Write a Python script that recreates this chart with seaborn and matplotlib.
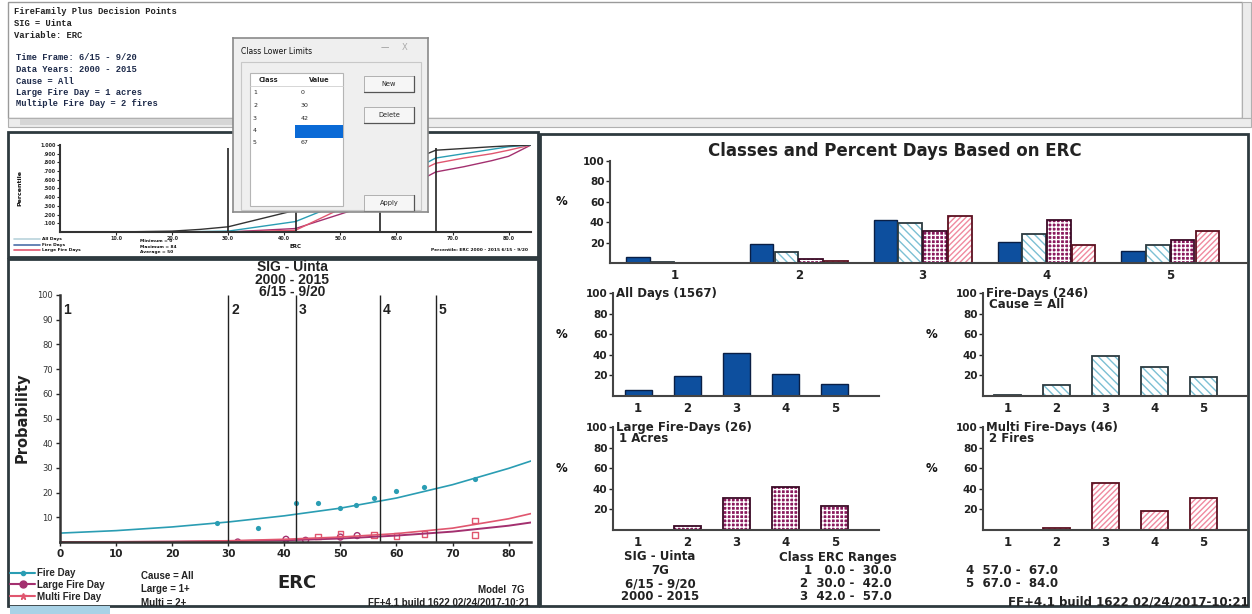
import numpy as np
import pandas as pd
import matplotlib
matplotlib.use("Agg")
import matplotlib.pyplot as plt
from matplotlib.patches import Rectangle
from matplotlib.lines import Line2D
import seaborn as sns

W, H = 1252, 614

# ---- data ----
classes = ["1", "2", "3", "4", "5"]
class_limits = [0, 30, 42, 57, 67]
class_upper = [30, 42, 57, 67, 84]

all_days_pct = [6, 19, 42, 21, 12]
fire_days_pct = [1, 11, 39, 28, 18]
large_days_pct = [0, 4, 31, 42, 23]
multi_days_pct = [0, 2, 46, 18, 31]
series_names = ["All Days", "Fire Days", "Large Fire Days", "Multi Fire Days"]

# probability chart: observed points (ERC, %)
fire_pt_erc = [28, 35.4, 42, 46, 50, 52.8, 56, 60, 65, 74]
fire_pt_prob = [7.6, 5.8, 15.9, 15.6, 13.6, 14.8, 17.7, 20.8, 22.4, 25.6]
large_pt_erc = [31.7, 40.3, 43.8, 50, 53]
large_pt_prob = [0, 1.1, 0.7, 2.0, 2.6]
multi_pt_erc = [46, 50, 56, 60, 65, 74, 74]
multi_pt_prob = [2.3, 3.5, 2.8, 2.4, 3.2, 2.8, 8.7]

# fitted curves
curve_erc = [0, 10, 20, 30, 40, 50, 60, 70, 80, 84]
fire_curve = [3.6, 4.6, 6.1, 8.1, 10.6, 13.7, 17.8, 23.2, 29.8, 32.8]
large_curve = [0.0, 0.0, 0.1, 0.3, 0.7, 1.4, 2.6, 4.2, 6.6, 7.9]
multi_curve = [0.05, 0.1, 0.2, 0.5, 1.1, 2.0, 3.4, 5.6, 9.4, 11.5]

# cumulative percentile (small upper-left chart)
cum_erc = [0, 10, 20, 25, 30, 42, 57, 67, 72, 77, 80, 84]
cum_all = [0, 0, 0.01, 0.03, 0.06, 0.25, 0.67, 0.94, 0.96, 0.98, 0.99, 1.0]
cum_fire = [0, 0, 0, 0.005, 0.01, 0.12, 0.51, 0.85, 0.90, 0.95, 0.98, 1.0]
cum_large = [0, 0, 0, 0, 0, 0.04, 0.35, 0.69, 0.75, 0.82, 0.87, 1.0]
cum_multi = [0, 0, 0, 0, 0, 0.02, 0.48, 0.79, 0.85, 0.90, 0.94, 1.0]

dialog_values = ["0", "30", "42", "", "67"]

# colours
C_ALL = "#0d4f9e"
C_FIRE = "#2a9db3"
C_LARGE = "#a3306f"
C_MULTI = "#e0566f"

sns.set_style("ticks")
plt.rcParams["font.family"] = ["DejaVu Sans"]
plt.rcParams["hatch.linewidth"] = 1.0

fig = plt.figure(figsize=(W / 100, H / 100), dpi=100)
fig.patch.set_facecolor("white")


def px_axes(x0, y0, x1, y1, **kw):
    return fig.add_axes([x0 / W, 1 - y1 / H, (x1 - x0) / W, (y1 - y0) / H], **kw)


def T(x, y, s, size=8, weight="bold", ha="left", va="center", color="#111",
      family="DejaVu Sans", **kw):
    fig.text(x / W, 1 - y / H, s, fontsize=size, fontweight=weight, ha=ha,
             va=va, color=color, family=family, **kw)


# ---- background frames ----
bg = px_axes(0, 0, W, H, zorder=-5)
bg.set_xlim(0, W)
bg.set_ylim(H, 0)
bg.axis("off")
bg.add_patch(Rectangle((8, 2), 1234, 116, fill=False, ec="#9a9a9a", lw=1))
bg.add_patch(Rectangle((1242, 2), 9, 116, fc="#ececec", ec="#b0b0b0", lw=0.8))
bg.add_patch(Rectangle((8, 118), 1243, 9, fc="#ececec", ec="#b0b0b0", lw=0.8))
bg.add_patch(Rectangle((20, 119), 230, 6, fc="#d6d6d6", ec="none"))
bg.add_patch(Rectangle((8, 132), 530, 125, fill=False, ec="#2e3a3f", lw=2))
bg.add_patch(Rectangle((8, 259), 530, 347, fill=False, ec="#2e3a3f", lw=2))
bg.add_patch(Rectangle((540, 134), 708, 472, fill=False, ec="#2e3a3f", lw=2))
bg.add_patch(Rectangle((10, 606), 100, 8, fc="#a9d2e6", ec="none"))

# ---- top text panel ----
mono = "Liberation Mono"
for i, s in enumerate(["FireFamily Plus Decision Points", "SIG = Uinta", "Variable: ERC"]):
    T(14, 12 + i * 12, s, size=6.3, family=mono, color="#222")
for i, s in enumerate(["Time Frame: 6/15 - 9/20", "Data Years: 2000 - 2015", "Cause = All",
                       "Large Fire Day = 1 acres", "Multiple Fire Day = 2 fires"]):
    T(16, 58 + i * 11.5, s, size=6.3, family=mono, color="#1d2a4a")

# ---- small cumulative chart (upper left) ----
ax0 = px_axes(60, 145, 531, 232)
ax0.set_facecolor("none")
for vals, c in [(cum_large, C_LARGE), (cum_multi, C_MULTI), (cum_fire, C_FIRE), (cum_all, "#333333")]:
    sns.lineplot(x=cum_erc, y=vals, ax=ax0, color=c, lw=1)
ax0.vlines(class_limits[1:], 0, 0.96, color="#222", lw=1.2)
ax0.set_xlim(0, 84)
ax0.set_ylim(0, 1.0)
ax0.set_yticks(np.arange(0.1, 1.01, 0.1))
ax0.set_yticklabels([f"{v:.3f}".lstrip("0") if v < 1 else "1.000" for v in np.arange(0.1, 1.01, 0.1)],
                    fontsize=3.5, fontweight="bold")
ax0.set_xticks(range(10, 81, 10))
ax0.set_xticklabels([f"{v}.0" for v in range(10, 81, 10)], fontsize=3.5, fontweight="bold")
ax0.tick_params(length=2, width=0.8, pad=1)
ax0.set_xlabel("")
ax0.set_ylabel("")
for s in ["top", "right"]:
    ax0.spines[s].set_visible(False)
for s in ["left", "bottom"]:
    ax0.spines[s].set_linewidth(1.5)
    ax0.spines[s].set_color("#333")
T(20, 188, "Percentile", size=4.5, rotation=90, ha="center")
T(296, 247, "ERC", size=4, ha="center")
for i, (lab, c) in enumerate([("All Days", "#b9d3dc"), ("Fire Days", "#4b6ea8"), ("Large Fire Days", C_MULTI)]):
    bg.plot([14, 40], [239 + i * 5.5, 239 + i * 5.5], color=c, lw=1.2)
    T(42, 239 + i * 5.5, lab, size=3.2)
for i, lab in enumerate(["Minimum = 0", "Maximum = 84", "Average = 50"]):
    T(140, 241 + i * 5.5, lab, size=3.2)
T(528, 250, "Percentile: ERC 2000 - 2015 6/15 - 9/20", size=3.2, ha="right")

# ---- probability chart (lower left) ----
ax1 = px_axes(60, 295, 531, 542)
ax1.set_facecolor("none")
sns.lineplot(x=curve_erc, y=fire_curve, ax=ax1, color=C_FIRE, lw=1.2)
sns.lineplot(x=curve_erc, y=large_curve, ax=ax1, color=C_LARGE, lw=1.4)
sns.lineplot(x=curve_erc, y=multi_curve, ax=ax1, color=C_MULTI, lw=1.2)
sns.scatterplot(x=fire_pt_erc, y=fire_pt_prob, ax=ax1, color=C_FIRE, s=14, linewidth=0)
sns.scatterplot(x=large_pt_erc, y=large_pt_prob, ax=ax1, marker="o", s=18)
ax1.collections[-1].set_facecolor("none")
ax1.collections[-1].set_edgecolor(C_LARGE)
ax1.collections[-1].set_linewidth(1)
sns.scatterplot(x=multi_pt_erc, y=multi_pt_prob, ax=ax1, marker="s", s=16)
ax1.collections[-1].set_facecolor("none")
ax1.collections[-1].set_edgecolor(C_MULTI)
ax1.collections[-1].set_linewidth(1)
ax1.vlines(class_limits[1:], 0, 100, color="#222", lw=1)
for lim, lab in zip(class_limits, classes):
    ax1.text(lim + 0.5, 94, lab, fontsize=10, fontweight="bold", color="#222",
             ha="left", va="center", family="Liberation Sans")
ax1.set_xlim(0, 84)
ax1.set_ylim(0, 100)
ax1.set_yticks(range(10, 101, 10))
ax1.set_yticklabels([str(v) for v in range(10, 101, 10)], fontsize=6, color="#333")
ax1.set_xticks(range(0, 81, 10))
ax1.set_xticklabels([str(v) for v in range(0, 81, 10)], fontsize=7.5, fontweight="bold", color="#222")
ax1.tick_params(length=3, width=1, pad=2)
for s in ["top", "right"]:
    ax1.spines[s].set_visible(False)
for s in ["left", "bottom"]:
    ax1.spines[s].set_linewidth(1.8)
    ax1.spines[s].set_color("#333")
T(292, 267, "SIG - Uinta", size=10, ha="center", family="Liberation Sans", color="#222")
T(292, 280, "2000 - 2015", size=10, ha="center", family="Liberation Sans", color="#222")
T(292, 292, "6/15 - 9/20", size=10, ha="center", family="Liberation Sans", color="#222")
T(22, 418, "Probability", size=10.5, rotation=90, ha="center", color="#222")
T(297, 583, "ERC", size=13, ha="center", color="#222")
handles = [Line2D([], [], color=C_FIRE, marker="o", ms=3),
           Line2D([], [], color=C_LARGE, marker="o", ms=5),
           Line2D([], [], color=C_MULTI, marker="*", ms=5)]
fig.legend(handles, ["Fire Day", "Large Fire Day", "Multi Fire Day"], loc="upper left",
           bbox_to_anchor=(10 / W, 1 - 568 / H), frameon=False, handlelength=2.6,
           handletextpad=0.2, labelspacing=0.18, borderaxespad=0, borderpad=0,
           prop={"size": 7, "weight": "bold", "family": "Liberation Sans"})
for i, s in enumerate(["Cause = All", "Large = 1+", "Multi = 2+"]):
    T(141, 576 + i * 13.5, s, size=7, family="Liberation Sans", color="#222")
T(524, 590, "Model  7G", size=7, ha="right", family="Liberation Sans", color="#222")
T(530, 603, "FF+4.1 build 1622 02/24/2017-10:21", size=7, ha="right", family="Liberation Sans", color="#222")


# ---- bar helpers ----
def style_container(ax, cont, kind):
    for p in cont.patches:
        if kind == "all":
            p.set_facecolor(C_ALL)
            p.set_edgecolor("#0a1f45")
            p.set_linewidth(1)
            continue
        if kind == "fire":
            p.set_facecolor("white")
            p.set_edgecolor("#7cc0d4")
            p.set_hatch("\\\\\\\\")
            outline = "#2c3a40"
        elif kind == "large":
            p.set_facecolor("#8a1a5e")
            p.set_edgecolor("white")
            p.set_hatch("++++")
            outline = "#3a0a25"
        else:
            p.set_facecolor("white")
            p.set_edgecolor("#f08aa0")
            p.set_hatch("//////")
            outline = "#5a1020"
        p.set_linewidth(0)
        ax.add_patch(Rectangle(p.get_xy(), p.get_width(), p.get_height(), fill=False,
                               ec=outline, lw=1.3, zorder=p.get_zorder() + 0.1))


def style_axis(ax):
    ax.set_facecolor("none")
    ax.set_ylim(0, 100)
    ax.set_yticks([20, 40, 60, 80, 100])
    ax.set_yticklabels(["20", "40", "60", "80", "100"], fontsize=7.5, fontweight="bold", color="#222")
    ax.tick_params(axis="y", length=3, width=1, pad=1)
    ax.tick_params(axis="x", length=0, pad=4)
    for lab in ax.get_xticklabels():
        lab.set_fontsize(8.5)
        lab.set_fontweight("bold")
        lab.set_color("#222")
    ax.set_xlabel("")
    ax.set_ylabel("")
    for s in ["top", "right"]:
        ax.spines[s].set_visible(False)
    for s in ["left", "bottom"]:
        ax.spines[s].set_linewidth(1.5)
        ax.spines[s].set_color("#444")


# ---- grouped bar chart (right top) ----
df = pd.DataFrame({
    "cls": classes * 4,
    "series": sum([[n] * 5 for n in series_names], []),
    "pct": all_days_pct + fire_days_pct + large_days_pct + multi_days_pct,
})
ax2 = px_axes(610, 161, 1247, 263)
sns.barplot(data=df, x="cls", y="pct", hue="series", hue_order=series_names, ax=ax2,
            width=0.8, saturation=1, legend=False, gap=0.05)
for cont, kind in zip(ax2.containers, ["all", "fire", "large", "multi"]):
    style_container(ax2, cont, kind)
ax2.set_xlim(-0.525, 4.62)
style_axis(ax2)
T(895, 151, "Classes and Percent Days Based on ERC", size=12, ha="center", color="#222")
T(561, 202, "%", size=8.5, ha="center")

# ---- single bar charts ----
panels = [
    (613, 293, 879, 396, all_days_pct, "all", ["All Days (1567)"]),
    (983, 293, 1247, 396, fire_days_pct, "fire", ["Fire-Days (246)", "Cause = All"]),
    (613, 427, 879, 530, large_days_pct, "large", ["Large Fire-Days (26)", "1 Acres"]),
    (983, 427, 1247, 530, multi_days_pct, "multi", ["Multi Fire-Days (46)", "2 Fires"]),
]
for x0, y0, x1, y1, vals, kind, titles in panels:
    ax = px_axes(x0, y0, x1, y1)
    sns.barplot(x=classes, y=vals, ax=ax, width=0.55, saturation=1, color=C_ALL)
    style_container(ax, ax.containers[0], kind)
    ax.set_xlim(-0.51, 4.9)
    style_axis(ax)
    T(x0 + 3, y0 + 1, titles[0], size=8.5, color="#222")
    if len(titles) > 1:
        T(x0 + 6, y0 + 12, titles[1], size=8.5, color="#222")
    T(x0 - 52, y0 + 42, "%", size=8.5, ha="center")

# ---- bottom text (right panel) ----
for i, s in enumerate(["SIG - Uinta", "7G", "6/15 - 9/20", "2000 - 2015"]):
    T(660, 557 + i * 13.3, s, size=8.5, ha="center", color="#222")
T(838, 557, "Class ERC Ranges", size=8.5, ha="center", color="#222")
for i in range(5):
    txt = f"{classes[i]}  {class_limits[i]:4.1f} -  {class_upper[i]:4.1f}"
    if i < 3:
        T(892, 570 + i * 13.3, txt, size=8.5, ha="right", color="#222")
    else:
        T(1058, 570 + (i - 3) * 13.3, txt, size=8.5, ha="right", color="#222")
T(1249, 602, "FF+4.1 build 1622 02/24/2017-10:21", size=8.5, ha="right", color="#222")

# ---- "Class Lower Limits" dialog ----
dl = px_axes(233, 38, 428, 212, zorder=10)
dl.set_xlim(0, 195)
dl.set_ylim(174, 0)
dl.set_facecolor("#efefef")
for s in dl.spines.values():
    s.set_color("#8a8a8a")
    s.set_linewidth(1.2)
dl.set_xticks([])
dl.set_yticks([])
dl.text(8, 13, "Class Lower Limits", fontsize=5.5, va="center", color="#111")
dl.text(152, 10, "—", fontsize=6, va="center", ha="center", color="#999")
dl.text(172, 10, "X", fontsize=6, va="center", ha="center", color="#aaa")
dl.add_patch(Rectangle((8, 24), 180, 148, fill=False, ec="#c8c8c8", lw=0.8))
dl.add_patch(Rectangle((17, 35), 93, 133, fc="white", ec="#b5b5b5", lw=0.8))
dl.text(26, 42, "Class", fontsize=4.8, fontweight="bold", va="center")
dl.text(76, 42, "Value", fontsize=4.8, fontweight="bold", va="center")
dl.plot([17, 110], [48, 48], color="#d0d0d0", lw=0.6)
for i, (c, v) in enumerate(zip(classes, dialog_values)):
    yy = 55 + i * 12.5
    dl.text(20, yy, c, fontsize=4.5, va="center")
    dl.text(68, yy, v, fontsize=4.5, va="center")
dl.add_patch(Rectangle((62, 86.5), 48, 13, fc="#0a6ad6", ec="none"))
for y0, lab in [(38, "New"), (69, "Delete"), (157, "Apply")]:
    dl.add_patch(Rectangle((131, y0), 50, 16, fc="#f6f6f6", ec="#b0b0b0", lw=0.7))
    dl.plot([131, 181, 181], [y0 + 16, y0 + 16, y0], color="#555", lw=0.9)
    dl.text(156, y0 + 8, lab, fontsize=4.8, ha="center", va="center")

fig.savefig("out.png", dpi=100)
